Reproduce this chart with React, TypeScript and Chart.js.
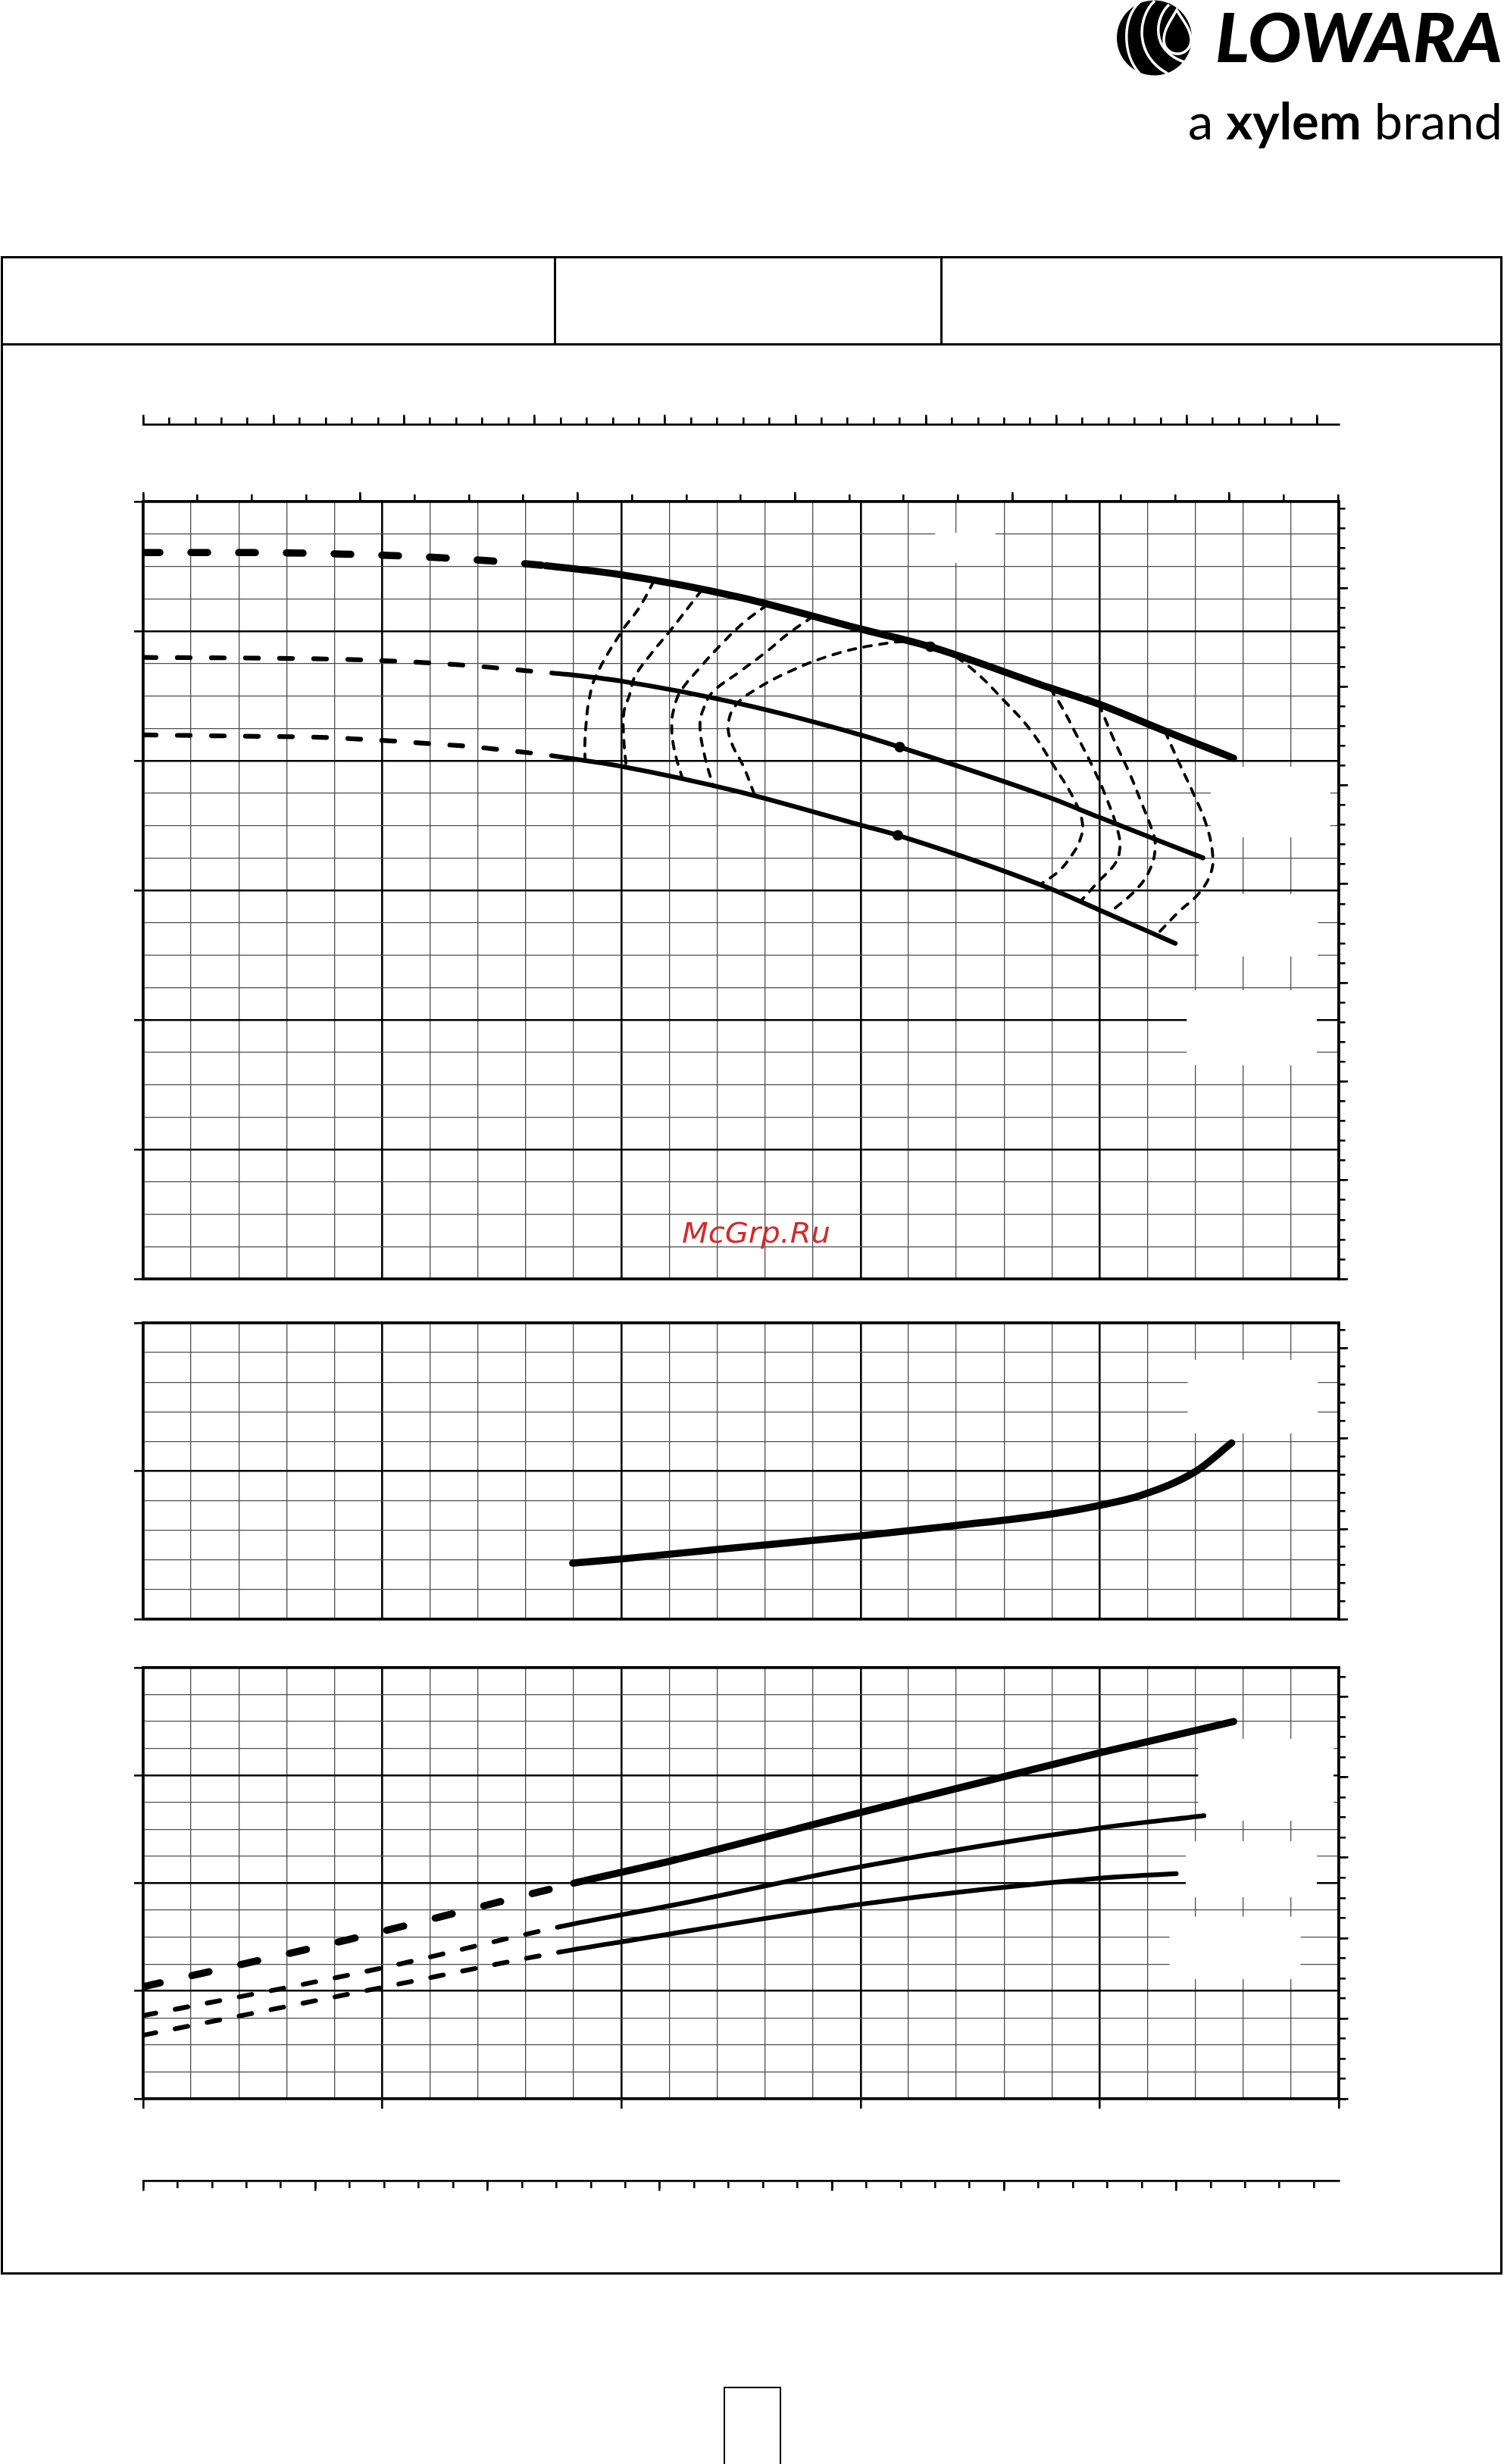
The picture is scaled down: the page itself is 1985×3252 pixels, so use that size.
import React, { useEffect, useRef } from "react";
import { Chart, registerables } from "chart.js";

Chart.register(...registerables);

/* ---------------- axis units ---------------- */
const Q_MAX = 125; // m³/h
const Q_MINOR = 5;
const Q_MAJOR = 25;
const US_GPM_PER_M3H = 4.402868;
const IMP_GPM_PER_M3H = 3.666154;
const LPS_PER_M3H = 1 / 3.6;
const FT_PER_M = 3.28084;
const HP_PER_KW = 1.341022;

const H_MAX = 60;
const H_MINOR = 2.5;
const H_MAJOR = 10;
const NPSH_MAX = 10;
const NPSH_MINOR = 1;
const NPSH_MAJOR = 5;
const P_MAX = 4;
const P_MINOR = 0.25;
const P_MAJOR = 1;

const US_GPM_TICK = 25;
const US_GPM_LONG = 100;
const IMP_GPM_TICK = 10;
const IMP_GPM_LONG = 50;
const LPS_TICK = 1;
const LPS_LONG = 5;
const FT_TICK = 5;
const FT_LONG = 25;
const NPSH_FT_TICK = 2;
const NPSH_FT_LONG = 10;
const HP_TICK = 0.25;
const HP_LONG = 1;

/* ---------------- H(Q) curves ---------------- */
const H1_Q = [0, 11.7, 17.0, 22.2, 27.5, 32.7, 38.0, 42.1, 50.0, 62.3, 75.0, 82.3, 94.6, 99.8, 106.8, 111.8, 114.0];
const H1_H = [56.07, 56.06, 56.02, 55.92, 55.8, 55.6, 55.33, 55.05, 54.35, 52.63, 50.17, 48.8, 45.67, 44.4, 42.3, 40.85, 40.2];
const H1_SOLID_FROM = 7;
const H1_BEP = 11;

const H2_Q = [0, 10, 19.3, 22.9, 26.6, 30.2, 34.0, 37.7, 41.3, 44.2, 50.0, 62.3, 75.0, 79.1, 94.6, 99.9, 110.8];
const H2_H = [47.97, 47.93, 47.85, 47.78, 47.68, 47.54, 47.35, 47.11, 46.86, 46.67, 46.14, 44.41, 41.99, 41.05, 37.2, 35.65, 32.5];
const H2_SOLID_FROM = 9;
const H2_BEP = 13;

const H3_Q = [0, 10, 19.3, 22.9, 26.6, 30.2, 34.0, 37.7, 41.3, 44.2, 50.0, 62.3, 75.0, 78.9, 94.6, 99.9, 107.9];
const H3_H = [41.99, 41.9, 41.79, 41.65, 41.5, 41.3, 41.11, 40.82, 40.53, 40.23, 39.56, 37.6, 35.03, 34.24, 30.2, 28.5, 25.9];
const H3_SOLID_FROM = 9;
const H3_BEP = 13;

/* ---------------- iso-efficiency curves ---------------- */
const EFF_L1_Q = [53.4, 51.85, 50.0, 47.3, 46.6, 46.3, 46.17, 46.2];
const EFF_L1_H = [53.87, 51.8, 49.95, 46.49, 44.64, 42.81, 41.17, 40.0];
const EFF_L2_Q = [58.4, 55.0, 53.2, 51.4, 50.85, 50.25, 50.25, 50.5];
const EFF_L2_H = [53.17, 49.95, 48.34, 46.49, 45.1, 43.71, 41.64, 39.52];
const EFF_L3_Q = [65.27, 62.76, 60.5, 58.2, 56.16, 55.5, 55.26, 55.5, 56.4];
const EFF_L3_H = [52.05, 50.65, 49.03, 47.18, 45.33, 44.06, 42.79, 40.94, 38.55];
const EFF_L4_Q = [70.03, 67.5, 65.04, 62.3, 59.57, 58.67, 58.21, 58.67, 59.6];
const EFF_L4_H = [51.13, 49.84, 48.34, 46.84, 45.33, 44.18, 42.79, 40.47, 38.0];
const EFF_IN_Q = [63.9, 62.76, 61.5, 61.17, 61.85, 63.67, 67.76, 72.3, 76.85, 80.48, 84.1, 86.86, 90.0, 92.8, 95.05, 97.25, 98.2, 97.9, 97.0, 95.7, 93.9];
const EFF_IN_H = [37.4, 39.55, 41.4, 42.79, 44.18, 45.33, 46.95, 48.22, 48.96, 49.15, 48.34, 46.95, 44.64, 42.33, 39.78, 37.12, 35.16, 33.8, 32.63, 31.46, 30.5];
const EFF_R1_Q = [94.8, 95.9, 97.5, 99.3, 100.7, 101.9, 102.1, 101.6, 99.9, 98.0];
const EFF_R1_H = [45.6, 44.33, 42.1, 39.47, 37.13, 34.56, 33.2, 32.05, 30.7, 29.15];
const EFF_R2_Q = [99.9, 101.5, 103.1, 104.4, 105.4, 105.8, 105.4, 103.9, 100.9];
const EFF_R2_H = [44.4, 41.6, 39.06, 36.7, 34.8, 33.63, 31.87, 30.12, 28.2];
const EFF_R3_Q = [106.8, 108.3, 109.9, 111.1, 111.8, 111.6, 110.3, 108.3, 106.0];
const EFF_R3_H = [42.3, 39.84, 37.3, 35.16, 32.82, 31.29, 29.7, 28.36, 26.6];

/* ---------------- NPSH(Q) ---------------- */
const NPSH_Q = [44.9, 49.9, 59.9, 74.9, 84.95, 94.95, 99.97, 104.4, 109.95, 113.8];
const NPSH_V = [1.89, 2.03, 2.35, 2.81, 3.16, 3.55, 3.84, 4.19, 4.97, 5.95];

/* ---------------- P(Q) ---------------- */
const P1_Q = [0, 21.8, 42.3, 45.0, 55.3, 75.0, 100.0, 114.0];
const P1_V = [1.04, 1.485, 1.94, 2.0, 2.21, 2.656, 3.21, 3.5];
const P1_SOLID_FROM = 3;
const P2_Q = [0, 24.4, 43.6, 55.3, 75.0, 100.0, 110.9];
const P2_V = [0.772, 1.203, 1.597, 1.795, 2.153, 2.512, 2.627];
const P2_SOLID_FROM = 2;
const P3_Q = [0, 24.4, 43.7, 51.1, 75.0, 100.0, 108.0];
const P3_V = [0.59, 1.023, 1.364, 1.472, 1.805, 2.046, 2.089];
const P3_SOLID_FROM = 2;

/* blank (label) areas in data units: [q0, v0, q1, v1] */
const BLANK_H = [
  [111.6, 39.53, 124.1, 34.09],
  [110.35, 29.7, 122.8, 24.9],
  [109.1, 22.28, 122.7, 16.49],
  [82.8, 57.6, 89.1, 55.26],
];
const BLANK_NPSH = [[109.2, 8.75, 122.8, 6.27]];
const BLANK_P = [
  [110.3, 3.34, 124.45, 2.58],
  [109.0, 2.39, 122.7, 1.87],
  [107.3, 1.69, 121.0, 1.11],
];

/* ---------------- texts ---------------- */
const LOGO_TEXT = "LOWARA";
const TAG_A = "a ";
const TAG_XYLEM = "xylem";
const TAG_BRAND = " brand";
const WATERMARK = "McGrp.Ru";

/* ---------------- helpers ---------------- */
const INK = "#000";
const MINOR_INK = "#4d4d4d";
const BORDER_W = 3.5;
const W_THICK = 9.5;
const W_MED = 6.2;
const W_EFF = 3.8;

const stepsTo = (max: number, step: number) => {
  const out: number[] = [];
  for (let i = 0; i * step <= max + 1e-9; i++) out.push(Math.round(i * step * 1e6) / 1e6);
  return out;
};
const onStep = (v: number, step: number) => Math.abs(v / step - Math.round(v / step)) < 1e-6;
const pts = (xs: number[], ys: number[]) => xs.map((x, i) => ({ x, y: ys[i] }));

function fixSize(axis: string) {
  return (s: any) => {
    if (axis === "x") s.height = 0;
    else s.width = 0;
  };
}

function gridScale(axis: string, position: string, max: number, minor: number, major: number, tickLen: number) {
  const ticks = stepsTo(max, minor);
  const isMaj = (c: any) => !!c.tick && onStep(c.tick.value, major);
  return {
    type: "linear",
    axis,
    position,
    min: 0,
    max,
    afterBuildTicks: (s: any) => {
      s.ticks = ticks.map((value) => ({ value }));
    },
    afterFit: fixSize(axis),
    ticks: { display: false },
    grid: {
      display: true,
      drawOnChartArea: true,
      drawTicks: tickLen > 0,
      tickLength: tickLen,
      color: (c: any) => (isMaj(c) ? INK : MINOR_INK),
      lineWidth: (c: any) => (isMaj(c) ? 2.6 : 1.3),
      tickColor: (c: any) => (isMaj(c) ? INK : "rgba(0,0,0,0)"),
      tickWidth: 2.6,
    },
    border: { display: true, width: BORDER_W, color: INK },
  };
}

function tickScale(axis: string, position: string, max: number, step: number, len: number, border: number) {
  const ticks = step > 0 ? stepsTo(max, step) : [];
  return {
    type: "linear",
    axis,
    position,
    min: 0,
    max,
    afterBuildTicks: (s: any) => {
      s.ticks = ticks.map((value) => ({ value }));
    },
    afterFit: fixSize(axis),
    ticks: { display: false },
    grid: {
      display: step > 0,
      drawOnChartArea: false,
      drawTicks: step > 0,
      tickLength: len,
      color: INK,
      lineWidth: 2.6,
      tickColor: INK,
      tickWidth: 2.6,
    },
    border: { display: border > 0, width: border, color: INK },
  };
}

function curve(xs: number[], ys: number[], width: number, dash: number[], solidFrom: number, bep: number) {
  return {
    data: pts(xs, ys),
    borderColor: INK,
    backgroundColor: INK,
    borderWidth: width,
    borderCapStyle: "round",
    borderJoinStyle: "round",
    fill: false,
    cubicInterpolationMode: "monotone",
    pointRadius: (c: any) => (c.dataIndex === bep ? 7 : 0),
    pointHoverRadius: 0,
    pointBorderWidth: 0,
    segment: {
      borderDash: (c: any) => (c.p1DataIndex <= solidFrom ? dash : []),
    },
    xAxisID: "x",
    yAxisID: "y",
  };
}

function effCurve(xs: number[], ys: number[]) {
  return {
    data: pts(xs, ys),
    borderColor: INK,
    borderWidth: W_EFF,
    borderDash: [10, 11],
    borderCapStyle: "round",
    fill: false,
    tension: 0.4,
    pointRadius: 0,
    pointHoverRadius: 0,
    xAxisID: "x",
    yAxisID: "y",
  };
}

const blankPlugin = {
  id: "blankBoxes",
  beforeDatasetsDraw(chart: any, _a: any, opts: any) {
    const boxes = (opts && opts.boxes) || [];
    const { ctx } = chart;
    const x = chart.scales.x;
    const y = chart.scales.y;
    ctx.save();
    ctx.fillStyle = "#fff";
    for (const b of boxes) {
      const x0 = x.getPixelForValue(b[0]);
      const x1 = x.getPixelForValue(b[2]);
      const y0 = y.getPixelForValue(b[1]);
      const y1 = y.getPixelForValue(b[3]);
      ctx.fillRect(Math.min(x0, x1), Math.min(y0, y1), Math.abs(x1 - x0), Math.abs(y1 - y0));
    }
    ctx.restore();
  },
};

function baseOptions(padding: any, scales: any, boxes: any[]) {
  return {
    animation: false,
    responsive: false,
    maintainAspectRatio: false,
    devicePixelRatio: 1,
    events: [],
    layout: { padding, autoPadding: false },
    plugins: {
      legend: { display: false },
      tooltip: { enabled: false },
      title: { display: false },
      blankBoxes: { boxes },
    },
    scales,
  };
}

/* ---------------- chart configs ---------------- */
const PAD_L = 60;
const PAD_R = 62;

function impGpmConfig() {
  const max = Q_MAX * IMP_GPM_PER_M3H;
  return {
    type: "line",
    data: { datasets: [] },
    options: baseOptions({ left: PAD_L, right: PAD_R, top: 40, bottom: 10 }, {
      x: tickScale("x", "top", max, IMP_GPM_TICK, 9, 2.8),
      xLong: tickScale("x", "top", max, IMP_GPM_LONG, 12.5, 0),
      y: { display: false, min: 0, max: 1 },
    }, []),
    plugins: [blankPlugin],
  };
}

function lpsConfig() {
  const max = Q_MAX * LPS_PER_M3H;
  return {
    type: "line",
    data: { datasets: [] },
    options: baseOptions({ left: PAD_L, right: PAD_R, top: 8, bottom: 32 }, {
      x: tickScale("x", "bottom", max, LPS_TICK, 10, 2.8),
      xLong: tickScale("x", "bottom", max, LPS_LONG, 13.5, 0),
      y: { display: false, min: 0, max: 1 },
    }, []),
    plugins: [blankPlugin],
  };
}

function headConfig() {
  const gpm = Q_MAX * US_GPM_PER_M3H;
  const ft = H_MAX * FT_PER_M;
  return {
    type: "line",
    data: {
      datasets: [
        effCurve(EFF_L1_Q, EFF_L1_H),
        effCurve(EFF_L2_Q, EFF_L2_H),
        effCurve(EFF_L3_Q, EFF_L3_H),
        effCurve(EFF_L4_Q, EFF_L4_H),
        effCurve(EFF_IN_Q, EFF_IN_H),
        effCurve(EFF_R1_Q, EFF_R1_H),
        effCurve(EFF_R2_Q, EFF_R2_H),
        effCurve(EFF_R3_Q, EFF_R3_H),
        curve(H3_Q, H3_H, W_MED, [17, 28], H3_SOLID_FROM, H3_BEP),
        curve(H2_Q, H2_H, W_MED, [17, 28], H2_SOLID_FROM, H2_BEP),
        curve(H1_Q, H1_H, W_THICK, [22, 41], H1_SOLID_FROM, H1_BEP),
      ],
    },
    options: baseOptions({ left: PAD_L, right: PAD_R, top: 62, bottom: 22 }, {
      x: gridScale("x", "bottom", Q_MAX, Q_MINOR, Q_MAJOR, 0),
      y: gridScale("y", "left", H_MAX, H_MINOR, H_MAJOR, 12),
      xGpm: tickScale("x", "top", gpm, US_GPM_TICK, 9.5, BORDER_W),
      xGpmLong: tickScale("x", "top", gpm, US_GPM_LONG, 12.5, 0),
      yFt: tickScale("y", "right", ft, FT_TICK, 8.5, BORDER_W),
      yFtLong: tickScale("y", "right", ft, FT_LONG, 12, 0),
    }, BLANK_H),
    plugins: [blankPlugin],
  };
}

function npshConfig() {
  const ft = NPSH_MAX * FT_PER_M;
  return {
    type: "line",
    data: { datasets: [curve(NPSH_Q, NPSH_V, W_THICK, [], 0, -1)] },
    options: baseOptions({ left: PAD_L, right: PAD_R, top: 26, bottom: 23 }, {
      x: gridScale("x", "bottom", Q_MAX, Q_MINOR, Q_MAJOR, 0),
      y: gridScale("y", "left", NPSH_MAX, NPSH_MINOR, NPSH_MAJOR, 12),
      xTop: tickScale("x", "top", Q_MAX, 0, 0, BORDER_W),
      yFt: tickScale("y", "right", ft, NPSH_FT_TICK, 8.5, BORDER_W),
      yFtLong: tickScale("y", "right", ft, NPSH_FT_LONG, 12, 0),
    }, BLANK_NPSH),
    plugins: [blankPlugin],
  };
}

function powerConfig() {
  const hp = P_MAX * HP_PER_KW;
  return {
    type: "line",
    data: {
      datasets: [
        curve(P3_Q, P3_V, W_MED, [17, 26], P3_SOLID_FROM, -1),
        curve(P2_Q, P2_V, W_MED, [17, 26], P2_SOLID_FROM, -1),
        curve(P1_Q, P1_V, W_THICK, [23, 43], P1_SOLID_FROM, -1),
      ],
    },
    options: baseOptions({ left: PAD_L, right: PAD_R, top: 21, bottom: 30 }, {
      x: gridScale("x", "bottom", Q_MAX, Q_MINOR, Q_MAJOR, 13),
      y: gridScale("y", "left", P_MAX, P_MINOR, P_MAJOR, 12),
      xTop: tickScale("x", "top", Q_MAX, 0, 0, BORDER_W),
      yHp: tickScale("y", "right", hp, HP_TICK, 9, BORDER_W),
      yHpLong: tickScale("y", "right", hp, HP_LONG, 12.5, 0),
    }, BLANK_P),
    plugins: [blankPlugin],
  };
}

/* ---------------- components ---------------- */
function ChartCanvas(props: { left: number; top: number; width: number; height: number; make: () => any }) {
  const ref = useRef<HTMLCanvasElement | null>(null);
  useEffect(() => {
    const chart = new Chart(ref.current as HTMLCanvasElement, props.make() as any);
    return () => chart.destroy();
  }, []);
  return (
    <canvas
      ref={ref}
      width={props.width}
      height={props.height}
      style={{ position: "absolute", left: props.left, top: props.top, width: props.width, height: props.height }}
    />
  );
}

function Logo() {
  return (
    <svg
      width={545}
      height={210}
      viewBox="0 0 545 210"
      style={{ position: "absolute", left: 1440, top: 0 }}
    >
      <circle cx={83.5} cy={50} r={49.5} fill="#000" />
      <path d="M 64 3 C 42 22 40 70 64 97" stroke="#fff" strokeWidth={3.5} fill="none" />
      <path d="M 84 1 C 60 24 58 74 101 97" stroke="#fff" strokeWidth={3.5} fill="none" />
      <path d="M 103 6 C 84 24 78 66 123 82" stroke="#fff" strokeWidth={3.5} fill="none" />
      <path
        d="M 113 13 C 106 26 96 38 96 53 A 18 18 0 0 0 132 53 C 132 38 120 26 113 13 Z"
        fill="#000"
        stroke="#fff"
        strokeWidth={3.5}
      />
      <text
        x={164}
        y={82}
        fontFamily="Lato, 'DejaVu Sans', sans-serif"
        fontWeight={900}
        fontStyle="italic"
        fontSize={90}
        textLength={379}
        lengthAdjust="spacingAndGlyphs"
        fill="#000"
      >
        {LOGO_TEXT}
      </text>
      <text
        x={128}
        y={184}
        fontFamily="Lato, 'DejaVu Sans', sans-serif"
        fontSize={66}
        textLength={415}
        lengthAdjust="spacingAndGlyphs"
        fill="#000"
      >
        <tspan fontWeight={400}>{TAG_A}</tspan>
        <tspan fontWeight={700}>{TAG_XYLEM}</tspan>
        <tspan fontWeight={400}>{TAG_BRAND}</tspan>
      </text>
    </svg>
  );
}

export default function App() {
  const box = (s: any) => <div style={{ position: "absolute", boxSizing: "border-box", ...s }} />;
  return (
    <div
      style={{
        position: "absolute",
        left: 0,
        top: 0,
        width: 1985,
        height: 3252,
        background: "#fff",
        overflow: "hidden",
      }}
    >
      <Logo />
      {/* frame & header table */}
      {box({ left: 1, top: 338, width: 1982, height: 2664, border: "3px solid #000" })}
      {box({ left: 1, top: 452.5, width: 1982, height: 3.8, background: "#000" })}
      {box({ left: 730.5, top: 338, width: 3, height: 116, background: "#000" })}
      {box({ left: 1240.5, top: 338, width: 3, height: 116, background: "#000" })}

      <ChartCanvas left={129} top={520} width={1700} height={60} make={impGpmConfig} />
      <ChartCanvas left={129} top={600} width={1700} height={1110} make={headConfig} />
      <ChartCanvas left={129} top={1720} width={1700} height={440} make={npshConfig} />
      <ChartCanvas left={129} top={2180} width={1700} height={620} make={powerConfig} />
      <ChartCanvas left={129} top={2860} width={1700} height={50} make={lpsConfig} />

      <svg width={230} height={60} style={{ position: "absolute", left: 890, top: 1600 }}>
        <text
          x={10}
          y={40}
          fontFamily="'DejaVu Sans', sans-serif"
          fontStyle="italic"
          fontSize={37}
          textLength={196}
          lengthAdjust="spacingAndGlyphs"
          fill="#d42a2a"
        >
          {WATERMARK}
        </text>
      </svg>

      {/* page number box */}
      {box({ left: 955, top: 3150, width: 76, height: 120, border: "2.5px solid #000" })}
    </div>
  );
}
